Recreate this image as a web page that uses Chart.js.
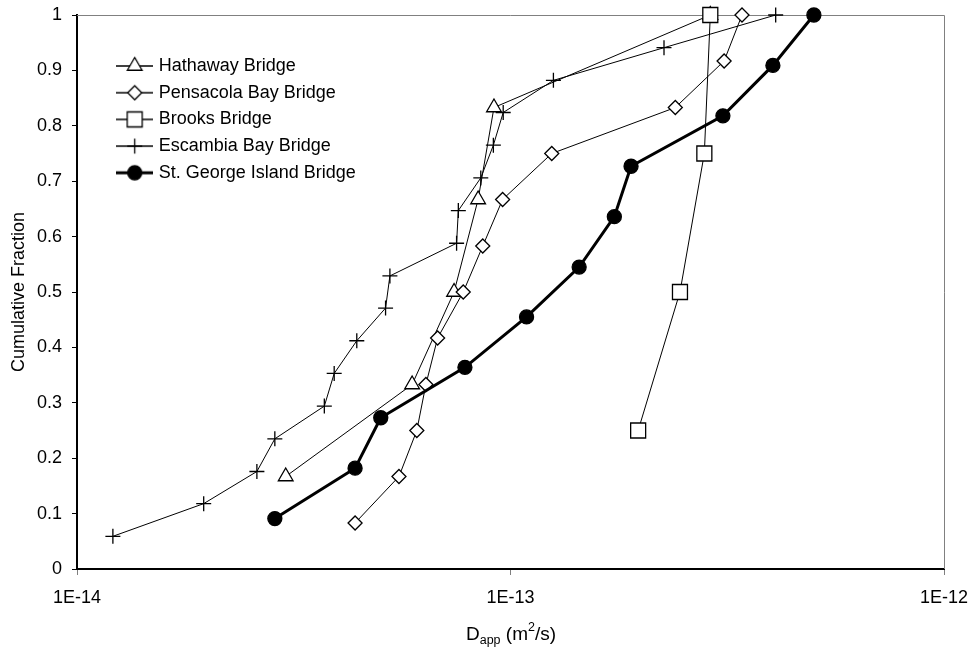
<!DOCTYPE html>
<html>
<head>
<meta charset="utf-8">
<title>Cumulative distribution of apparent diffusion coefficients</title>
<script src="https://cdn.jsdelivr.net/npm/chart.js@4.4.0/dist/chart.umd.min.js"></script>
<style>
  html, body { margin: 0; padding: 0; background: #fff; }
  #wrap { position: relative; width: 974px; height: 650px; }
  #chart { position: absolute; left: 0; top: 0; }
  #xtitle {
    position: absolute; left: 511px; top: 624px; transform: translateX(-50%);
    font-family: "Liberation Sans", Arial, sans-serif; font-size: 19px; line-height: 19px;
    color: #000; white-space: nowrap;
  }
  #xtitle sub, #xtitle sup { font-size: 12.5px; vertical-align: baseline; position: relative; }
  #xtitle sub { top: 4px; }
  #xtitle sup { top: -9px; }
</style>
</head>
<body>
<div id="wrap">
  <canvas id="chart" width="974" height="650"></canvas>
  <div id="xtitle">D<sub>app</sub> (m<sup>2</sup>/s)</div>
</div>
<script>
// Apparent diffusion coefficients (m^2/s) per bridge, with cumulative fraction of cores
const seriesNames = ['Hathaway Bridge', 'Pensacola Bay Bridge', 'Brooks Bridge', 'Escambia Bay Bridge', 'St. George Island Bridge'];

const hathawayD    = [3.03e-14, 5.93e-14, 7.41e-14, 8.42e-14, 9.16e-14, 2.89e-13];
const hathawayFrac = [0.167, 0.333, 0.5, 0.667, 0.833, 1];

const pensacolaD    = [4.38e-14, 5.53e-14, 6.08e-14, 6.38e-14, 6.79e-14, 7.78e-14, 8.63e-14, 9.59e-14, 1.245e-13, 2.40e-13, 3.11e-13, 3.42e-13];
const pensacolaFrac = [0.083, 0.167, 0.25, 0.333, 0.417, 0.5, 0.583, 0.667, 0.75, 0.833, 0.917, 1];

const brooksD    = [1.97e-13, 2.46e-13, 2.80e-13, 2.89e-13];
const brooksFrac = [0.25, 0.5, 0.75, 1];

const escambiaD    = [1.21e-14, 1.96e-14, 2.60e-14, 2.86e-14, 3.72e-14, 3.92e-14, 4.42e-14, 5.15e-14, 5.27e-14, 7.51e-14, 7.58e-14, 8.54e-14, 9.13e-14, 9.62e-14, 1.256e-13, 2.26e-13, 4.09e-13];
const escambiaFrac = [0.059, 0.118, 0.176, 0.235, 0.294, 0.353, 0.412, 0.471, 0.529, 0.588, 0.647, 0.706, 0.765, 0.824, 0.882, 0.941, 1];

const stGeorgeD    = [2.86e-14, 4.38e-14, 5.02e-14, 7.85e-14, 1.089e-13, 1.44e-13, 1.736e-13, 1.897e-13, 3.09e-13, 4.03e-13, 5.01e-13];
const stGeorgeFrac = [0.091, 0.182, 0.273, 0.364, 0.455, 0.545, 0.636, 0.727, 0.818, 0.909, 1];

const xTickValues = [1e-14, 1e-13, 1e-12];
const xTickLabels = ['1E-14', '1E-13', '1E-12'];
const yTickLabels = ['0', '0.1', '0.2', '0.3', '0.4', '0.5', '0.6', '0.7', '0.8', '0.9', '1'];

const seriesD    = [hathawayD, pensacolaD, brooksD, escambiaD, stGeorgeD];
const seriesFrac = [hathawayFrac, pensacolaFrac, brooksFrac, escambiaFrac, stGeorgeFrac];

// Marker and line appearance for each series
const looks = [
  { pointStyle: 'triangle', radius: 8.5,  fill: '#ffffff', line: 1 },
  { pointStyle: 'rectRot',  radius: 7,    fill: '#ffffff', line: 1 },
  { pointStyle: 'rect',     radius: 10.6, fill: '#ffffff', line: 1 },
  { pointStyle: 'cross',    radius: 7.5,  fill: '#000000', line: 1 },
  { pointStyle: 'circle',   radius: 7,    fill: '#000000', line: 3 }
];
const markerEdge = 1.3;

const FONT = '"Liberation Sans", Arial, sans-serif';
Chart.defaults.font.family = FONT;
Chart.defaults.font.size = 18;
Chart.defaults.color = '#000';

// Legend swatch: a short line segment with the series marker on it
function makeSwatch(look) {
  const c = document.createElement('canvas');
  c.width = 37; c.height = 24;
  const g = c.getContext('2d');
  g.strokeStyle = '#000';
  g.lineWidth = Math.max(look.line, 1.5);
  g.beginPath(); g.moveTo(0, 12); g.lineTo(37, 12); g.stroke();
  g.fillStyle = look.fill;
  g.lineWidth = markerEdge;
  Chart.helpers.drawPoint(g, { pointStyle: look.pointStyle, radius: look.radius, borderWidth: markerEdge, rotation: 0 }, 18.5, 12);
  return c;
}
const swatches = looks.map(makeSwatch);

const datasets = seriesNames.map((name, i) => ({
  label: name,
  data: seriesD[i].map((d, k) => ({ x: d, y: seriesFrac[i][k] })),
  showLine: true,
  borderColor: '#000',
  borderWidth: looks[i].line,
  pointStyle: looks[i].pointStyle,
  pointRadius: looks[i].radius,
  pointHoverRadius: looks[i].radius,
  pointBackgroundColor: looks[i].fill,
  pointBorderColor: '#000',
  pointBorderWidth: markerEdge,
  tension: 0,
  fill: false,
  clip: false,
  order: seriesNames.length - i   // later series are painted on top
}));

// Thin grey frame along the top and right of the plot area
const plotFrame = {
  id: 'plotFrame',
  beforeDatasetsDraw(chart) {
    const { ctx, chartArea: a } = chart;
    ctx.save();
    ctx.strokeStyle = '#808080';
    ctx.lineWidth = 1;
    ctx.beginPath();
    ctx.moveTo(a.left, a.top + 0.5);
    ctx.lineTo(a.right + 0.5, a.top + 0.5);
    ctx.lineTo(a.right + 0.5, a.bottom);
    ctx.stroke();
    ctx.restore();
  }
};

// Put the legend block in the upper-left part of the plot area
const legendPlacement = {
  id: 'legendPlacement',
  afterLayout(chart) {
    const lg = chart.legend;
    if (!lg) return;
    const a = chart.chartArea;
    lg.left = a.left + 34;
    lg.top = a.top + 33.3;
    lg.width = 320;
    lg.height = 250;
    lg.right = lg.left + lg.width;
    lg.bottom = lg.top + lg.height;
  }
};

new Chart(document.getElementById('chart'), {
  type: 'scatter',
  data: { datasets },
  plugins: [plotFrame, legendPlacement],
  options: {
    responsive: false,
    animation: false,
    events: [],
    layout: { padding: { top: 15, right: 30, left: 0, bottom: 0 } },
    plugins: {
      tooltip: { enabled: false },
      legend: {
        position: 'chartArea',
        align: 'start',
        labels: {
          usePointStyle: true,
          pointStyleWidth: 30,
          padding: 8.7,
          color: '#000',
          font: { size: 18, family: FONT },
          sort: (a, b) => a.datasetIndex - b.datasetIndex,
          generateLabels(chart) {
            const items = Chart.defaults.plugins.legend.labels.generateLabels(chart);
            items.forEach(it => { it.pointStyle = swatches[it.datasetIndex]; });
            return items;
          }
        }
      }
    },
    scales: {
      x: {
        type: 'logarithmic',
        min: xTickValues[0],
        max: xTickValues[xTickValues.length - 1],
        afterBuildTicks(scale) { scale.ticks = xTickValues.map(v => ({ value: v })); },
        afterFit(scale) {
          scale.height = 81;
          scale.paddingLeft = 0;
          scale.paddingRight = 0;
        },
        ticks: {
          callback: (v, i) => xTickLabels[i],
          color: '#000',
          font: { size: 18, family: FONT },
          padding: 12,
          maxRotation: 0,
          autoSkip: false
        },
        grid: { drawOnChartArea: false, drawTicks: true, tickLength: 6, color: '#808080' },
        border: { display: true, color: '#000', width: 2 }
      },
      y: {
        type: 'linear',
        min: 0,
        max: 1,
        afterFit(scale) {
          scale.width = 77;
          scale.paddingTop = 0;
          scale.paddingBottom = 0;
        },
        ticks: {
          stepSize: 0.1,
          callback: (v, i) => yTickLabels[i],
          color: '#000',
          font: { size: 18, family: FONT },
          padding: 10
        },
        grid: { drawOnChartArea: false, drawTicks: true, tickLength: 5, color: '#000' },
        border: { display: true, color: '#000', width: 2 },
        title: {
          display: true,
          text: 'Cumulative Fraction',
          color: '#000',
          font: { size: 18, family: FONT },
          padding: { top: 8, bottom: 0 }
        }
      }
    }
  }
});
</script>
</body>
</html>
